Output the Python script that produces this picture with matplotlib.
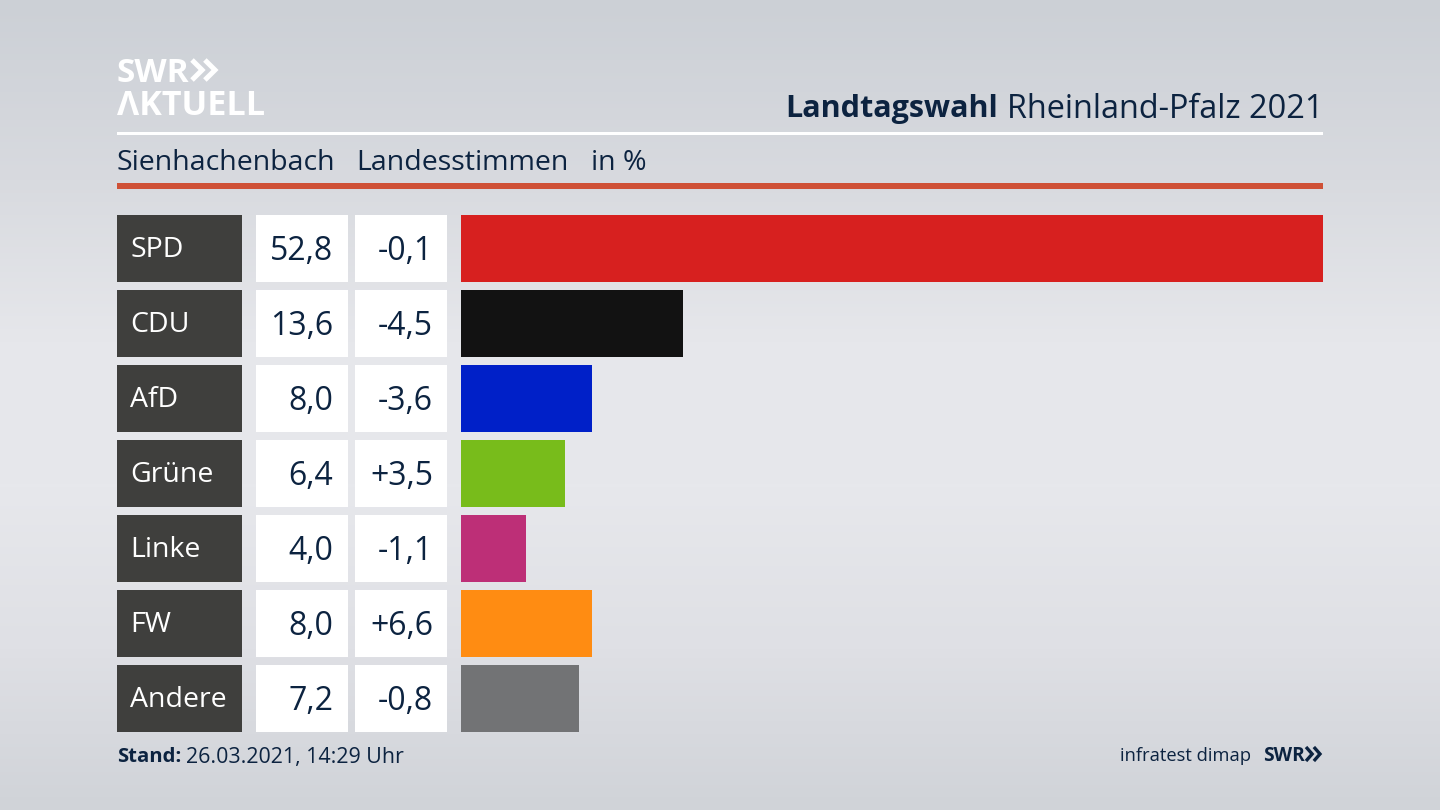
import numpy as np
import matplotlib
matplotlib.use("Agg")
import matplotlib.pyplot as plt
from matplotlib.patches import Rectangle
from matplotlib.colors import LinearSegmentedColormap

parties = ["SPD", "CDU", "AfD", "Grüne", "Linke", "FW", "Andere"]
shares = [52.8, 13.6, 8.0, 6.4, 4.0, 8.0, 7.2]
changes = ["-0,1", "-4,5", "-3,6", "+3,5", "-1,1", "+6,6", "-0,8"]
colors = ["#d7201f", "#121212", "#0020c8", "#78bc1b", "#bd2f77", "#ff8c12", "#727375"]

W, H = 1440, 810
NAVY = "#0c2340"
FONT = ["Open Sans", "Noto Sans", "DejaVu Sans"]
plt.rcParams["font.family"] = FONT

fig = plt.figure(figsize=(W / 100, H / 100), dpi=100)

# pixel-space canvas
bg = fig.add_axes([0, 0, 1, 1])
bg.set_xlim(0, W)
bg.set_ylim(H, 0)
bg.axis("off")
cmap = LinearSegmentedColormap.from_list(
    "bgrad",
    [(0, "#ccd0d6"), (0.22, "#d8dadf"), (0.42, "#e6e7eb"), (0.6, "#e7e8ec"), (0.8, "#dfe0e5"), (1, "#d0d3d8")],
)
bg.imshow(np.linspace(0, 1, 256)[:, None], cmap=cmap, aspect="auto",
          extent=(0, W, H, 0), zorder=0)

# rules
bg.add_patch(Rectangle((117, 132), 1206, 3, color="white", lw=0, zorder=1))
bg.add_patch(Rectangle((117, 183), 1206, 6, color="#cf5137", lw=0, zorder=1))


def chevrons(x0, x1, y0, y1, color, lw):
    """Double-chevron glyph of the SWR logo."""
    w = (x1 - x0) * 0.44
    ym = (y0 + y1) / 2
    for xs in (x0, x1 - w):
        bg.plot([xs, xs + w, xs], [y0, ym, y1], color=color, lw=lw,
                solid_joinstyle="miter", solid_capstyle="butt", zorder=2)


# logo
bg.text(117, 73, "SWR", fontsize=24, fontweight="bold", color="white", va="center", ha="left")
chevrons(192, 215, 60, 80, "white", 3.6)
bg.text(117, 106, "ΛKTUELL", fontsize=24.6, fontweight="bold", color="white", va="center", ha="left")

# header
t2 = bg.text(1323, 109, "Rheinland-Pfalz 2021", fontsize=23.4, color=NAVY, va="center", ha="right")
fig.canvas.draw()
ext = t2.get_window_extent()
bg.text(ext.x0 - 9, 109, "Landtagswahl", fontsize=22, fontweight="bold", color=NAVY, va="center", ha="right")

bg.text(117, 163, "Sienhachenbach", fontsize=20.5, color=NAVY, va="center", ha="left")
bg.text(356, 163, "Landesstimmen", fontsize=20.5, color=NAVY, va="center", ha="left")
bg.text(591, 163, "in %", fontsize=20.5, color=NAVY, va="center", ha="left")

# rows: label box, value box, change box
y_top, row_h, step = 215, 66.5, 75
for i, (p, s, c) in enumerate(zip(parties, shares, changes)):
    y = y_top + i * step
    cy = y + row_h / 2
    bg.add_patch(Rectangle((117, y), 125, row_h, color="#3f3f3d", lw=0, zorder=1))
    bg.add_patch(Rectangle((256, y), 92, row_h, color="white", lw=0, zorder=1))
    bg.add_patch(Rectangle((355, y), 92, row_h, color="white", lw=0, zorder=1))
    bg.text(130.5, cy + 2, p, fontsize=20.5, color="white", va="center", ha="left", zorder=2)
    bg.text(333, cy + 3, f"{s:.1f}".replace(".", ","), fontsize=23, color=NAVY, va="center", ha="right", zorder=2)
    bg.text(433, cy + 3, c, fontsize=23, color=NAVY, va="center", ha="right", zorder=2)

# bars on their own data scale
n = len(parties)
bottom = y_top + (n - 1) * step + row_h
ax = fig.add_axes([461 / W, 1 - bottom / H, (1323 - 461) / W, (bottom - y_top) / H])
ax.patch.set_alpha(0)
ax.set_xlim(0, max(shares))
ax.set_ylim(n - 1 + row_h / (2 * step), -row_h / (2 * step))
ax.barh(range(n), shares, height=row_h / step, color=colors, linewidth=0)
ax.axis("off")

# footer
bg.text(117, 757, "Stand:", fontsize=14.6, fontweight="bold", color=NAVY, va="center", ha="left")
bg.text(186, 757, "26.03.2021, 14:29 Uhr", fontsize=15.4, color=NAVY, va="center", ha="left")
bg.text(1251, 756, "infratest dimap", fontsize=13.2, color=NAVY, va="center", ha="right")
bg.text(1263, 756, "SWR", fontsize=13.8, fontweight="bold", color=NAVY, va="center", ha="left")
chevrons(1306, 1320, 747, 761, NAVY, 2.4)

fig.savefig("out.png", dpi=100)
